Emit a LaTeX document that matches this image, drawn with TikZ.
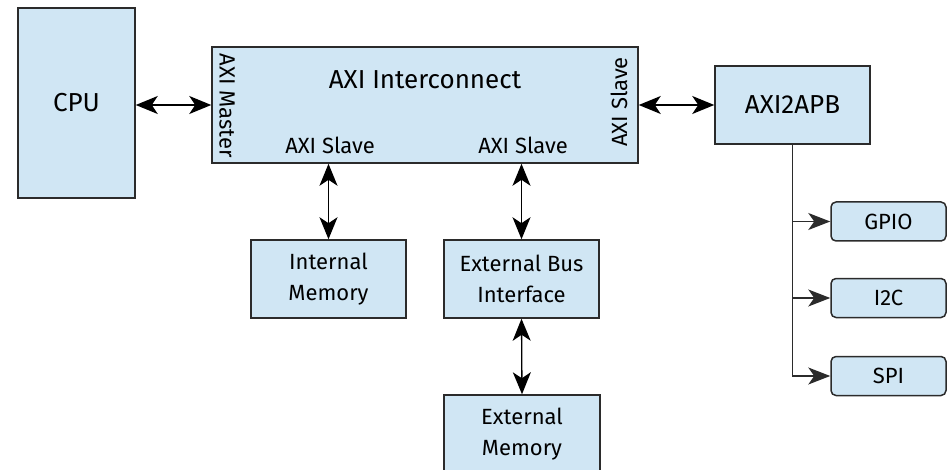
\documentclass[tikz,border=0pt]{standalone}
\usepackage{fontspec}
\setmainfont{Fira Sans}
\usetikzlibrary{arrows.meta}
\definecolor{boxfill}{HTML}{D0E6F4}
\definecolor{boxline}{HTML}{2B2B2B}
\tikzset{
  blk/.style={draw=boxline, fill=boxfill, line width=1.5pt, inner sep=0pt, align=center},
  pill/.style={blk, rounded corners=5pt},
  bigtxt/.style={font=\fontsize{26}{30}\selectfont},
  smalltxt/.style={font=\fontsize{22}{31}\selectfont},
  link/.style={line width=1.3pt, draw=black, arrows={Stealth[length=22pt,width=18pt,inset=6pt]-Stealth[length=22pt,width=18pt,inset=6pt]}},
  feed/.style={line width=1.3pt, draw=boxline, arrows={-Stealth[length=22pt,width=17pt,inset=6pt]}},
}
\begin{document}
\begin{tikzpicture}[x=1pt, y=-1pt]
\useasboundingbox (0,0) rectangle (947,470);
\clip (0,0) rectangle (947,470);

% main blocks
\node[blk, bigtxt, minimum width=117pt, minimum height=190pt] (cpu) at (76.5,103) {CPU};
\node[blk, minimum width=426pt, minimum height=116pt] (axi) at (425,105) {};
\node[bigtxt] (axititle) at (425,80) {AXI Interconnect};
\node[smalltxt, rotate=-90] (axim) at (227,106) {AXI Master};
\node[smalltxt, rotate=90] (axisr) at (619,102) {AXI Slave};
\node[smalltxt] (axis1) at (330,145) {AXI Slave};
\node[smalltxt] (axis2) at (523,145) {AXI Slave};
\node[blk, bigtxt, minimum width=155pt, minimum height=78pt] (apb) at (792.5,105) {AXI2APB};

% memories and bus interface
\node[blk, smalltxt, minimum width=155pt, minimum height=78pt] (imem) at (328.5,279) {Internal\\Memory};
\node[blk, smalltxt, minimum width=155pt, minimum height=78pt] (ebi) at (521.5,279) {External Bus\\Interface};
\node[blk, smalltxt, minimum width=156pt, minimum height=78pt] (emem) at (522,434) {External\\Memory};

% peripherals
\node[pill, smalltxt, minimum width=115pt, minimum height=39pt] (gpio) at (888.5,221.5) {GPIO};
\node[pill, smalltxt, minimum width=115pt, minimum height=39pt] (i2c) at (888.5,298) {I2C};
\node[pill, smalltxt, minimum width=115pt, minimum height=39pt] (spi) at (888.5,376) {SPI};

% bus connections
\draw[link] (cpu.east |- 0,105) -- (axi.west |- 0,105);
\draw[link] (axi.east |- 0,105) -- (apb.west |- 0,105);
\draw[link] (imem.north |- axi.south) -- (imem.north);
\draw[link] (ebi.north |- axi.south) -- (ebi.north);
\draw[link] (ebi.south) -- (emem.north);

% APB fan-out
\draw[feed] (apb.south) |- (gpio.west);
\draw[feed] (apb.south) |- (i2c.west);
\draw[feed] (apb.south) |- (spi.west);
\end{tikzpicture}
\end{document}
